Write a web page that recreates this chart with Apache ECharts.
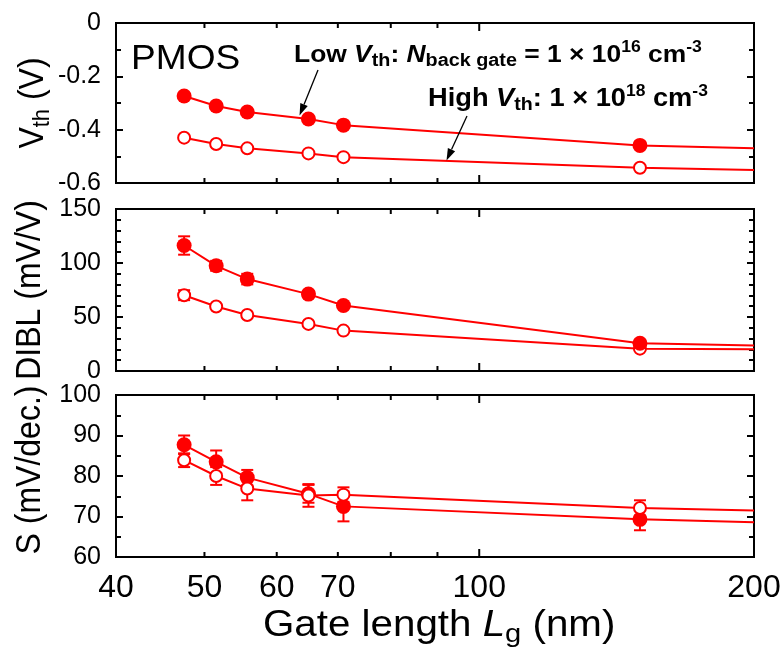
<!DOCTYPE html>
<html><head><meta charset="utf-8">
<script src="https://cdn.jsdelivr.net/npm/echarts@6/dist/echarts.min.js"></script>
<style>html,body{margin:0;padding:0;background:#fff}#c{width:780px;height:658px}</style>
</head><body><div id="c"></div>
<script>
// ---- data ----
const gateLength = [47.5, 51.5, 55.7, 65, 71, 150];
const lineEndX = 200;
const vthLow  = [-0.274, -0.311, -0.334, -0.360, -0.383, -0.459];
const vthLowEnd = -0.470;
const vthHigh = [-0.430, -0.454, -0.470, -0.489, -0.503, -0.543];
const vthHighEnd = -0.551;
const diblLow = [116.2, 97.4, 85.1, 71.2, 60.6, 25.7];
const diblLowErr = [8.5, 4.6, 4.9, 3.0, 0, 0];
const diblLowEnd = 23.5;
const diblHigh = [70.2, 59.7, 51.9, 43.6, 37.4, 20.7];
const diblHighErr = [4.6, 0, 0, 0, 0, 0];
const diblHighEnd = 20.1;
const ssLow = [87.7, 83.5, 79.6, 75.6, 72.5, 69.3];
const ssLowErr = [2.3, 2.8, 1.9, 2.2, 3.7, 2.7];
const ssLowEnd = 68.6;
const ssHigh = [83.9, 80.0, 76.9, 75.2, 75.4, 72.1];
const ssHighErr = [1.7, 2.2, 2.9, 2.8, 1.8, 1.9];
const ssHighEnd = 71.5;
const xTickValues = [40, 50, 60, 70, 80, 90, 100, 200];
const xTickLabels = [40, 50, 60, 70, 100, 200];
const vthRange = [-0.6, 0], vthStep = 0.2;
const diblRange = [0, 150], diblStep = 50;
const ssRange = [60, 100], ssStep = 10;

const FONT = '"Liberation Sans", Arial, Helvetica, sans-serif';
const RED = '#ff0000';
const grids = [
  {left: 116, width: 638, top: 23, height: 160},
  {left: 116, width: 638, top: 209, height: 162},
  {left: 116, width: 638, top: 395, height: 162}
];
const yRanges = [vthRange, diblRange, ssRange];
const ySteps = [vthStep, diblStep, ssStep];
const yMinor = [2, 5, 2];

const chart = echarts.init(document.getElementById('c'), null, {renderer: 'canvas'});

function fmt(v) {
  const r = Math.round(v * 10) / 10;
  if (r === 0) return '0';
  return Number.isInteger(r) ? String(r) : r.toFixed(1);
}

const xAxes = grids.map((g, i) => ({
  gridIndex: i, type: 'log', logBase: 10, min: 40, max: 200,
  axisLine: {show: false}, axisTick: {show: false}, axisLabel: {show: false},
  splitLine: {show: false}, minorTick: {show: false}
}));
const yAxes = [];
grids.forEach((g, i) => {
  ['left', 'right'].forEach(pos => {
    yAxes.push({
      gridIndex: i, type: 'value', position: pos,
      min: yRanges[i][0], max: yRanges[i][1], interval: ySteps[i],
      axisLine: {show: false},
      axisTick: {show: true, inside: true, length: 7, lineStyle: {color: '#000', width: 2}},
      minorTick: {show: true, splitNumber: yMinor[i], length: 5, lineStyle: {color: '#000', width: 2}},
      splitLine: {show: false}, minorSplitLine: {show: false},
      axisLabel: {show: pos === 'left', fontSize: 25, color: '#000', fontFamily: FONT, margin: 15, formatter: fmt}
    });
  });
});

function pts(ys, endY) {
  const d = gateLength.map((x, i) => [x, ys[i]]);
  d.push({value: [lineEndX, endY], symbol: 'none'});
  return d;
}
function lineSeries(gi, ys, endY, filled) {
  return {
    type: 'line', xAxisIndex: gi, yAxisIndex: gi * 2, data: pts(ys, endY),
    symbol: 'circle', symbolSize: filled ? 15 : 12, showSymbol: true,
    lineStyle: {color: RED, width: 2},
    itemStyle: filled ? {color: RED, borderColor: RED, borderWidth: 0} : {color: '#fff', borderColor: RED, borderWidth: 2},
    z: 3, animation: false, silent: true
  };
}
function errSeries(gi, ys, es) {
  const data = [];
  gateLength.forEach((x, i) => { if (es[i] > 0) data.push([x, ys[i], es[i]]); });
  return {
    type: 'custom', xAxisIndex: gi, yAxisIndex: gi * 2, z: 2, silent: true, animation: false,
    encode: {x: 0, y: 1}, data,
    renderItem: (params, api) => {
      const x = api.value(0), y = api.value(1), e = api.value(2);
      const t = api.coord([x, y + e]), b = api.coord([x, y - e]);
      const hw = 6, st = {stroke: RED, lineWidth: 2};
      return {type: 'group', children: [
        {type: 'line', shape: {x1: t[0], y1: t[1], x2: b[0], y2: b[1]}, style: st},
        {type: 'line', shape: {x1: t[0] - hw, y1: t[1], x2: t[0] + hw, y2: t[1]}, style: st},
        {type: 'line', shape: {x1: b[0] - hw, y1: b[1], x2: b[0] + hw, y2: b[1]}, style: st}
      ]};
    }
  };
}
function tickSeries(gi, withLabels) {
  const yr = yRanges[gi];
  return {
    type: 'custom', xAxisIndex: gi, yAxisIndex: gi * 2, z: 6, silent: true, animation: false,
    encode: {x: 0, y: 1}, data: xTickValues.map(v => [v, yr[0]]),
    renderItem: (params, api) => {
      const v = api.value(0);
      const b = api.coord([v, yr[0]]), t = api.coord([v, yr[1]]);
      const len = v === 100 ? 8 : 5;
      const st = {stroke: '#000', lineWidth: 2};
      const ch = [];
      if (v > 40 && v < 200) {
        ch.push({type: 'line', shape: {x1: b[0], y1: b[1], x2: b[0], y2: b[1] - len}, style: st});
        ch.push({type: 'line', shape: {x1: t[0], y1: t[1], x2: t[0], y2: t[1] + len}, style: st});
      }
      if (withLabels && xTickLabels.indexOf(v) >= 0) {
        ch.push({type: 'text', x: b[0], y: b[1] + 31, style: {
          text: String(v), fontSize: 32, fontFamily: FONT, fill: '#000', align: 'center', verticalAlign: 'middle'}});
      }
      return {type: 'group', children: ch};
    }
  };
}

const series = [
  lineSeries(0, vthLow, vthLowEnd, true),
  lineSeries(0, vthHigh, vthHighEnd, false),
  errSeries(1, diblHigh, diblHighErr),
  errSeries(1, diblLow, diblLowErr),
  lineSeries(1, diblHigh, diblHighEnd, false),
  lineSeries(1, diblLow, diblLowEnd, true),
  errSeries(2, ssLow, ssLowErr),
  errSeries(2, ssHigh, ssHighErr),
  lineSeries(2, ssLow, ssLowEnd, true),
  lineSeries(2, ssHigh, ssHighEnd, false),
  tickSeries(0, false), tickSeries(1, false), tickSeries(2, true)
];
series[5].z = 4;
series[9].z = 4;

function arrow(x1, y1, x2, y2) {
  const dx = x2 - x1, dy = y2 - y1, L = Math.hypot(dx, dy);
  const ux = dx / L, uy = dy / L, hl = 12, hw = 4;
  const bx = x2 - ux * hl, by = y2 - uy * hl;
  return [
    {type: 'line', shape: {x1, y1, x2: bx, y2: by}, style: {stroke: '#000', lineWidth: 1.3}, z: 10},
    {type: 'polygon', shape: {points: [[x2, y2], [bx - uy * hw, by + ux * hw], [bx + uy * hw, by - ux * hw]]},
      style: {fill: '#000'}, z: 10}
  ];
}

const bold = {fontFamily: FONT, fontWeight: 'bold', fontSize: 24, lineHeight: 30};
const boldIt = Object.assign({}, bold, {fontStyle: 'italic'});
const subB = {fontFamily: FONT, fontWeight: 'bold', fontSize: 18, lineHeight: 16, verticalAlign: 'bottom'};
const supB = {fontFamily: FONT, fontWeight: 'bold', fontSize: 16, lineHeight: 16, verticalAlign: 'top'};
const bold25 = Object.assign({}, bold, {fontSize: 25});
const boldIt25 = Object.assign({}, boldIt, {fontSize: 25});

const graphic = [
  {type: 'text', x: 131, y: 59, scaleX: 1.06, z: 10, style: {
    text: 'PMOS', fontFamily: FONT, fontSize: 35, fill: '#000', align: 'left', verticalAlign: 'middle'}},
  {type: 'text', x: 294, y: 55, scaleX: 1.1, z: 10, style: {
    text: '{b|Low }{bi|V}{sub|th}{b|: }{bi|N}{sub|back gate}{b| = 1 × 10}{sup|16}{b| cm}{sup|-3}',
    align: 'left', verticalAlign: 'middle', fill: '#000',
    rich: {b: bold, bi: boldIt, sub: subB, sup: supB}}},
  {type: 'text', x: 428, y: 99, scaleX: 1.09, z: 10, style: {
    text: '{b|High }{bi|V}{sub|th}{b|: 1 × 10}{sup|18}{b| cm}{sup|-3}',
    align: 'left', verticalAlign: 'middle', fill: '#000',
    rich: {b: bold25, bi: boldIt25, sub: subB, sup: supB}}},
  ...arrow(318, 70, 299.5, 115.5),
  ...arrow(467, 116, 446.5, 160.5),
  {type: 'text', x: 33, y: 103, rotation: Math.PI / 2, scaleY: 1.12, z: 10, style: {
    text: '{m|V}{s|th}{m| (V)}', align: 'center', verticalAlign: 'middle', fill: '#000',
    rich: {m: {fontFamily: FONT, fontSize: 32, lineHeight: 38},
           s: {fontFamily: FONT, fontSize: 22, lineHeight: 14, verticalAlign: 'bottom'}}}},
  {type: 'text', x: 30, y: 290, rotation: Math.PI / 2, scaleY: 1.12, z: 10, style: {
    text: 'DIBL (mV/V)', fontFamily: FONT, fontSize: 32, fill: '#000', align: 'center', verticalAlign: 'middle'}},
  {type: 'text', x: 30, y: 470, rotation: Math.PI / 2, scaleY: 1.12, z: 10, style: {
    text: 'S (mV/dec.)', fontFamily: FONT, fontSize: 32, fill: '#000', align: 'center', verticalAlign: 'middle'}},
  {type: 'text', x: 263, y: 626, scaleX: 1.12, z: 10, style: {
    text: '{m|Gate length }{i|L}{s|g}{m| (nm)}', align: 'left', verticalAlign: 'middle', fill: '#000',
    rich: {m: {fontFamily: FONT, fontSize: 36, lineHeight: 44},
           i: {fontFamily: FONT, fontSize: 36, lineHeight: 44, fontStyle: 'italic'},
           s: {fontFamily: FONT, fontSize: 26, lineHeight: 8, verticalAlign: 'bottom'}}}}
];

chart.setOption({
  animation: false,
  backgroundColor: '#fff',
  grid: grids.map(g => Object.assign({show: true, borderColor: '#000', borderWidth: 2, backgroundColor: 'transparent'}, g)),
  xAxis: xAxes,
  yAxis: yAxes,
  series,
  graphic
});
</script>
</body></html>
